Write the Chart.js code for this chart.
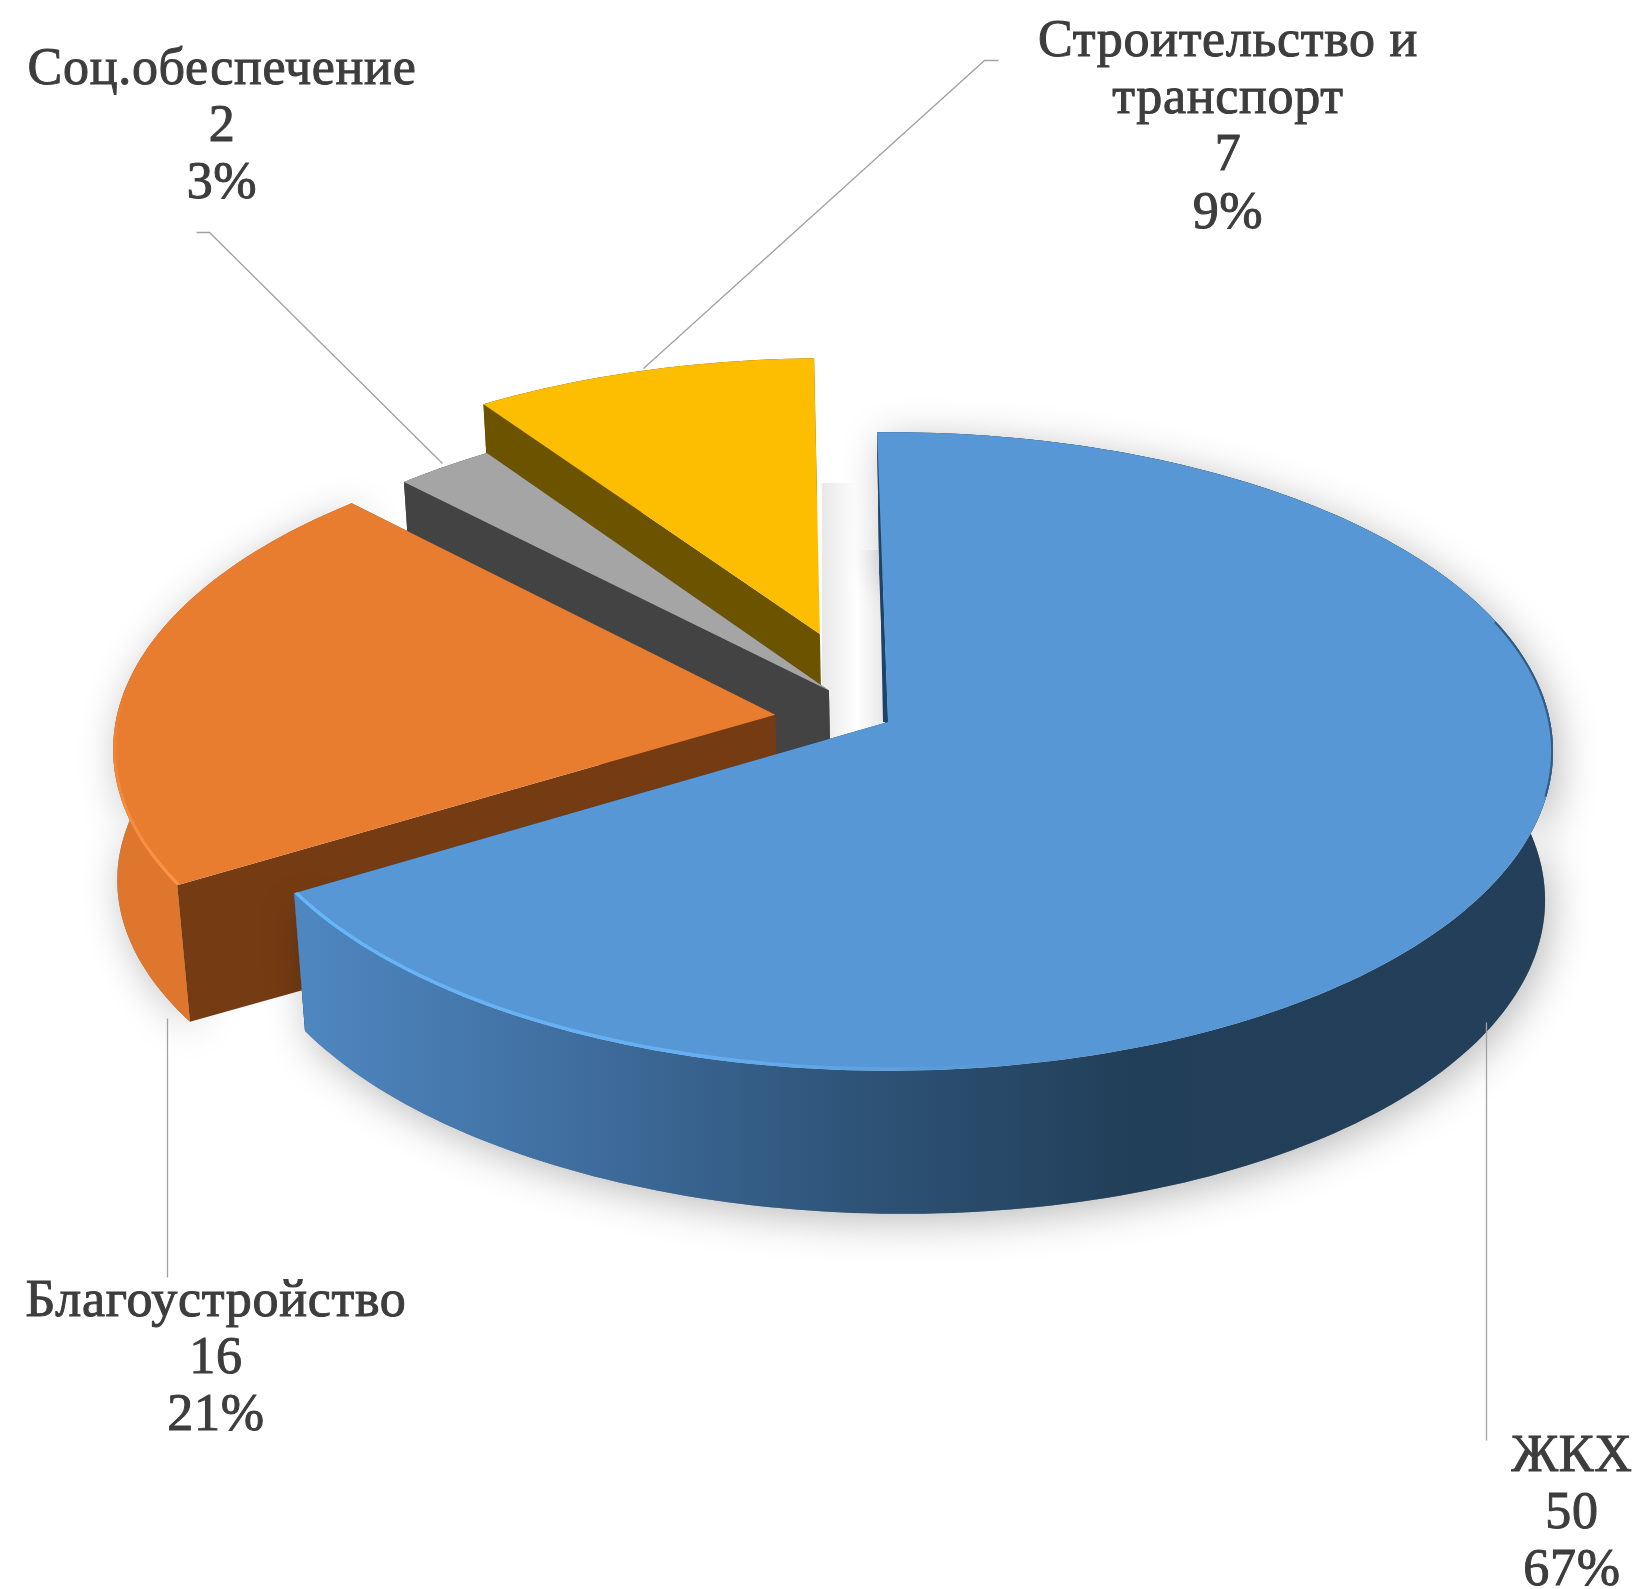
<!DOCTYPE html>
<html lang="ru">
<head>
<meta charset="utf-8">
<title>Pie</title>
<style>
html,body{margin:0;padding:0;background:#fff}
#wrap{position:relative;width:1638px;height:1589px}
canvas{display:block}
</style>
<script src="https://cdn.jsdelivr.net/npm/chart.js@4"></script>
</head>
<body>
<div id="wrap"><canvas id="c" width="1638" height="1589"></canvas></div>
<script>
const categories = ['ЖКХ', 'Благоустройство', 'Соц.обеспечение', 'Строительство и транспорт'];
const categoryLines = [['ЖКХ'], ['Благоустройство'], ['Соц.обеспечение'], ['Строительство и', 'транспорт']];
const values = [50, 16, 2, 7];
const topColors = ['#5897d5', '#e87c2f', '#a5a5a5', '#fdbd00'];

// slice explosion (percent of radius), and small screen nudges
const explode = [0, 18, 13, 30];
const nudgeX = [0, 5, -5, -9];
const nudgeY = [0, 0, 0, 0];
const innerColors = ['#1d4468', '#753c13', '#434343', '#6c5300'];
const outerColors = [null, '#df762d', '#434343', '#6c5300'];

// perspective model, relative to the arc radius
const P = { ky: 0.479, persp: 0.0923, shear: 0.018, roll: 0.009, dy: 143, dx: 2, kb: 0.985 };

class Arc3D extends Chart.ArcElement {
  static id = 'arc3d';
  draw(ctx) {
    const { x, y, outerRadius: R, startAngle: a0, endAngle: a1 } = this.getProps(['x', 'y', 'outerRadius', 'startAngle', 'endAngle']);
    const i = this.sliceIndex;
    const e = (this.options.offset || 0) / 100, mid = (a0 + a1) / 2;
    const ox = Math.cos(mid) * e, oy = Math.sin(mid) * e;
    const project = (a, r, bottom) => {
      const ux = ox + Math.cos(a) * r, uy = oy + Math.sin(a) * r;
      const w = 1 - P.persp * uy;
      let X = R * (ux + P.shear * uy) / w, Y = R * P.ky * uy / w;
      if (bottom) { X = X * P.kb + P.dx; Y += P.dy; } else { Y -= P.roll * X; }
      return [x + X + nudgeX[i], y + Y + nudgeY[i]];
    };
    const arcPts = (from, to, bottom) => {
      const n = Math.max(2, Math.ceil(Math.abs(to - from) / 0.02)), pts = [];
      for (let k = 0; k <= n; k++) {
        const t = k / n;
        // the left slice's lower rim bulges a little further out than the plain projection
        const bulge = (bottom && i === 1) ? 1 + 0.017 * Math.sin(Math.PI * t) : 1;
        pts.push(project(from + (to - from) * t, bulge, bottom));
      }
      return pts;
    };
    const fillPoly = (pts, style) => {
      ctx.beginPath();
      pts.forEach((p, k) => k ? ctx.lineTo(p[0], p[1]) : ctx.moveTo(p[0], p[1]));
      ctx.closePath();
      ctx.fillStyle = style;
      ctx.fill();
    };
    ctx.save();
    const outerPoly = arcPts(a0, a1, false).concat(arcPts(a1, a0, true));
    let outerStyle = outerColors[i];
    if (i === 0) {
      const g = ctx.createLinearGradient(x - R, 0, x + R, 0);
      g.addColorStop(0.057, '#4e87c0');
      g.addColorStop(0.267, '#3f6d9e');
      g.addColorStop(0.471, '#2e5478');
      g.addColorStop(0.683, '#223f59');
      g.addColorStop(1, '#233f59');
      outerStyle = g;
    }
    // soft floor shadow, from the wall silhouette
    ctx.save();
    ctx.shadowColor = 'rgba(0,0,0,0.27)';
    ctx.shadowBlur = 40;
    ctx.shadowOffsetX = 6;
    ctx.shadowOffsetY = 8;
    if (i < 2) fillPoly(outerPoly, '#888');
    ctx.restore();

    // radial walls
    [a0, a1].forEach(a => {
      const o = project(a, 0, false), t = project(a, 1, false), b = project(a, 1, true), ob = project(a, 0, true);
      fillPoly([o, t, b, ob], innerColors[i]);
    });
    // outer wall
    fillPoly(outerPoly, outerStyle);
    if (i === 0) {
      // thin dark sliver at the top of the big slice
      const o = project(a0, 0, false), t = project(a0, 1, false);
      fillPoly([[o[0] - 5, o[1]], t, o], innerColors[0]);
    }
    // top face
    const topPts = [project(a0, 0, false)].concat(arcPts(a0, a1, false));
    fillPoly(topPts, this.options.backgroundColor);
    // bevel highlights
    ctx.save();
    ctx.beginPath();
    topPts.forEach((p, k) => k ? ctx.lineTo(p[0], p[1]) : ctx.moveTo(p[0], p[1]));
    ctx.closePath();
    ctx.clip();
    const stroke = (pts, style, width) => {
      ctx.beginPath();
      pts.forEach((p, k) => k ? ctx.lineTo(p[0], p[1]) : ctx.moveTo(p[0], p[1]));
      ctx.strokeStyle = style;
      ctx.lineWidth = width;
      ctx.stroke();
    };
    if (i === 0) {
      const g = ctx.createLinearGradient(x - 590, 0, x + 120, 0);
      g.addColorStop(0, 'rgba(104,182,250,1)');
      g.addColorStop(0.55, 'rgba(104,182,250,0.8)');
      g.addColorStop(1, 'rgba(104,182,250,0)');
      stroke(arcPts(a1, a1 - 1.3, false), g, 7);
      stroke(arcPts(-Math.PI * 0.1, Math.PI * 0.08, false), 'rgba(35,65,95,0.7)', 4);
    }
    if (i === 1) {
      const g = ctx.createLinearGradient(0, y + 160, 0, y - 40);
      g.addColorStop(0, 'rgba(255,150,70,0.9)');
      g.addColorStop(1, 'rgba(255,150,70,0)');
      stroke(arcPts(a0, a0 + 0.8, false), g, 6);
    }
    ctx.restore();
    ctx.restore();
  }
}
Chart.register(Arc3D);

class Pie3D extends Chart.PieController {
  static id = 'pie3d';
  static defaults = { dataElementType: 'arc3d' };
  draw() {
    const ctx = this.chart.ctx, els = this._cachedMeta.data, area = this.chart.chartArea;
    for (let i = els.length - 1; i >= 0; i--) { els[i].sliceIndex = i; els[i].draw(ctx, area); }
  }
}
Chart.register(Pie3D);

const labelAnchors = [
  { x: 1572, y: 1457, line: [[1486, 1022], [1486, 1440]] },
  { x: 216, y: 1302, line: [[167, 1018], [167, 1277]] },
  { x: 222, y: 70, line: [[196, 232], [209, 232], [442, 463]] },
  { x: 1228, y: 42, line: [[998, 60], [984, 60], [643, 368]] }
];

const labelsPlugin = {
  id: 'outerLabels',
  beforeDatasetsDraw(chart) {
    const { ctx } = chart, m = chart.getDatasetMeta(0).data[0];
    ctx.save();
    const band = (x0, x1, y0, y1) => {
      const g = ctx.createLinearGradient(x0, 0, x1, 0);
      g.addColorStop(0, 'rgba(0,0,0,0.09)');
      g.addColorStop(1, 'rgba(0,0,0,0)');
      ctx.fillStyle = g;
      ctx.fillRect(Math.min(x0, x1), y0, Math.abs(x1 - x0), y1 - y0);
    };
    band(m.x - 66, m.x - 30, m.y - 239, m.y + 20);
    band(m.x - 5, m.x - 32, m.y - 172, m.y + 20);
    ctx.restore();
  },
  afterDatasetsDraw(chart) {
    const { ctx } = chart, total = values.reduce((a, b) => a + b, 0);
    ctx.save();
    labelAnchors.forEach((a, i) => {
      ctx.beginPath();
      a.line.forEach((p, k) => k ? ctx.lineTo(p[0] + 0.5, p[1] + 0.5) : ctx.moveTo(p[0] + 0.5, p[1] + 0.5));
      ctx.strokeStyle = '#a2a2a2';
      ctx.lineWidth = 1.3;
      ctx.stroke();
      const lines = categoryLines[i].concat([String(values[i]), Math.round(values[i] / total * 100) + '%']);
      ctx.font = '52px "Liberation Serif", serif';
      ctx.letterSpacing = '0.7px';
      ctx.fillStyle = '#3d3d3d';
      ctx.strokeStyle = '#3d3d3d';
      ctx.lineWidth = 1;
      ctx.textAlign = 'center';
      ctx.textBaseline = 'middle';
      lines.forEach((t, k) => {
        ctx.fillText(t, a.x, a.y + k * 57.3);
        ctx.strokeText(t, a.x, a.y + k * 57.3);
      });
    });
    ctx.restore();
  }
};

new Chart(document.getElementById('c'), {
  type: 'pie3d',
  data: {
    labels: categories,
    datasets: [{ data: values, backgroundColor: topColors, borderWidth: 0, offset: explode }]
  },
  options: {
    responsive: false,
    animation: false,
    layout: { padding: { left: 212, right: 74, top: 46, bottom: 191 } },
    plugins: { legend: { display: false }, tooltip: { enabled: false } }
  },
  plugins: [labelsPlugin]
});
</script>
</body>
</html>
